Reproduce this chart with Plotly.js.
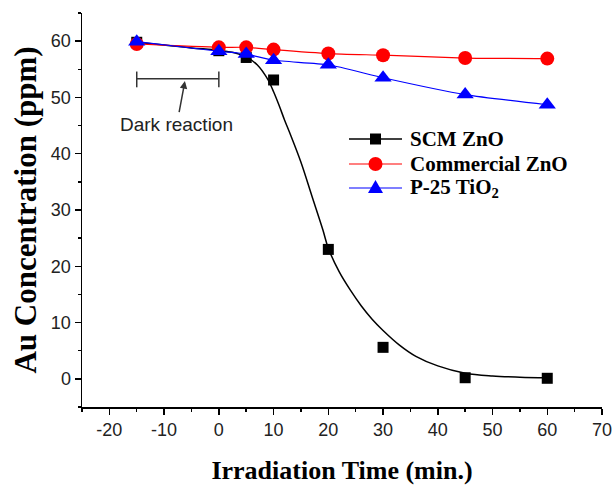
<!DOCTYPE html>
<html>
<head>
<meta charset="utf-8">
<script src="https://cdn.plot.ly/plotly-3.0.1.min.js"></script>
<style>html,body{margin:0;padding:0;background:#fff;}#chart{width:615px;height:485px;}</style>
</head>
<body>
<div id="chart"></div>
<script>
// Irradiation time (min.)
var timeMin = [-15, 0, 5, 10, 20, 30, 45, 60];
// Au concentration (ppm)
var scmZnO = [59.8, 58.3, 57.1, 53.1, 23.0, 5.6, 0.2, 0.1];
var commercialZnO = [59.5, 58.9, 58.9, 58.5, 57.8, 57.5, 57.0, 56.9];
var p25TiO2 = [59.9, 58.2, 57.7, 56.6, 55.8, 53.5, 50.5, 48.7];
// fitted curve for SCM ZnO
var fitX = [-15, -10, -5, 0, 3, 5, 7, 9, 10, 11, 12, 13, 15, 17, 19, 20, 22, 24, 26, 28, 30, 33, 36, 40, 45, 50, 55, 60];
var fitY = [59.8, 59.3, 58.8, 58.4, 57.9, 57.2, 55.8, 53.1, 51.0, 48.6, 46.0, 43.6, 38.5, 32.5, 26.5, 23.2, 19.0, 15.8, 13.0, 10.6, 8.6, 6.0, 4.0, 2.3, 1.0, 0.5, 0.3, 0.2];
// dark reaction period
var darkStart = -15, darkEnd = 0, darkLevel = 53.3;
var xTicks = [-20, -10, 0, 10, 20, 30, 40, 50, 60, 70];
var yTicks = [0, 10, 20, 30, 40, 50, 60];
var seriesNames = ['SCM ZnO', 'Commercial ZnO', 'P-25 TiO<sub>2</sub>'];
var seriesColors = ['#000000', '#ff0000', '#0000ff'];

var serif = '"Liberation Serif", "Times New Roman", serif';
var sans = '"Liberation Sans", Arial, sans-serif';

var traces = [
  {x: fitX, y: fitY, mode: 'lines', line: {color: seriesColors[0], width: 1.5, shape: 'spline', smoothing: 1}, showlegend: false, hoverinfo: 'skip'},
  {x: timeMin, y: scmZnO, mode: 'markers', name: seriesNames[0],
   marker: {symbol: 'square', size: 11, color: seriesColors[0]}, showlegend: false},
  {x: timeMin, y: commercialZnO, mode: 'lines+markers', name: seriesNames[1],
   line: {color: seriesColors[1], width: 1.2, shape: 'spline', smoothing: 0.6},
   marker: {symbol: 'circle', size: 14, color: seriesColors[1]}, showlegend: false},
  {x: timeMin, y: p25TiO2, mode: 'lines+markers', name: seriesNames[2],
   line: {color: seriesColors[2], width: 1.2, shape: 'spline', smoothing: 0.6},
   marker: {symbol: 'triangle-up', size: 15, color: seriesColors[2]}, showlegend: false}
];

// Legend drawn in the plot area (paper coords of plot: x 82..602, y 13..407 px)
var plotL = 82, plotW = 520, plotT = 13, plotH = 394;
function px2x(p) { return (p - plotL) / plotW; }
function px2y(p) { return 1 - (p - plotT) / plotH; }
var legRows = [139, 164, 188];
var legLine0 = 349, legLine1 = 402, legText = 408;
var legMid = (legLine0 + legLine1) / 2;

var shapes = [
  {type: 'line', xref: 'x', yref: 'y', x0: darkStart, x1: darkEnd, y0: darkLevel, y1: darkLevel, line: {color: '#333', width: 1.5}},
  {type: 'line', xref: 'x', yref: 'y', x0: darkStart, x1: darkStart, y0: darkLevel - 1.5, y1: darkLevel + 1.3, line: {color: '#333', width: 1.5}},
  {type: 'line', xref: 'x', yref: 'y', x0: darkEnd, x1: darkEnd, y0: darkLevel - 1.5, y1: darkLevel + 1.3, line: {color: '#333', width: 1.5}}
];
var annotations = [
  {x: -6.2, y: darkLevel - 0.4, xref: 'x', yref: 'y', text: 'Dark reaction', showarrow: true,
   axref: 'pixel', ayref: 'pixel', ax: -8, ay: 43, arrowhead: 2, arrowsize: 1, arrowwidth: 1.5, arrowcolor: '#333',
   font: {family: sans, size: 19, color: '#222'}}
];
legRows.forEach(function (ry, i) {
  var yy = px2y(ry);
  shapes.push({type: 'line', xref: 'paper', yref: 'paper', x0: px2x(legLine0), x1: px2x(legLine1), y0: yy, y1: yy,
               line: {color: seriesColors[i], width: i === 0 ? 1.5 : 1.2}});
  var mk = {xref: 'paper', yref: 'paper', xsizemode: 'pixel', ysizemode: 'pixel', xanchor: px2x(legMid), yanchor: yy,
            fillcolor: seriesColors[i], line: {width: 0}};
  if (i === 0) { mk.type = 'rect'; mk.x0 = -5.5; mk.x1 = 5.5; mk.y0 = -5.5; mk.y1 = 5.5; }
  else if (i === 1) { mk.type = 'circle'; mk.x0 = -7; mk.x1 = 7; mk.y0 = -7; mk.y1 = 7; }
  else { mk.type = 'path'; mk.path = 'M-7.5,-5 L7.5,-5 L0,8 Z'; }
  shapes.push(mk);
  annotations.push({xref: 'paper', yref: 'paper', x: px2x(legText), y: yy, xanchor: 'left', yanchor: 'middle',
                    text: seriesNames[i], showarrow: false, align: 'left',
                    font: {family: serif, size: 21, color: '#000', weight: 'bold'}});
});

var layout = {
  width: 615, height: 485,
  margin: {l: plotL, r: 615 - plotL - plotW, t: plotT, b: 485 - plotT - plotH},
  paper_bgcolor: '#fff', plot_bgcolor: '#fff',
  showlegend: false,
  xaxis: {
    range: [-25, 70], tickvals: xTicks, ticktext: xTicks.map(String),
    showgrid: false, zeroline: false, showline: true, linecolor: '#000', linewidth: 1.5,
    ticks: 'outside', ticklen: 6, tickwidth: 1.5, tickcolor: '#000',
    minor: {dtick: 5, tick0: 0, ticks: 'outside', ticklen: 3, tickwidth: 1.5, tickcolor: '#000', showgrid: false},
    tickfont: {family: sans, size: 18, color: '#222'},
    title: {text: 'Irradiation Time (min.)', font: {family: serif, size: 26, color: '#000', weight: 'bold'}, standoff: 24}
  },
  yaxis: {
    range: [-5, 65], tickvals: yTicks, ticktext: yTicks.map(String),
    showgrid: false, zeroline: false, showline: true, linecolor: '#000', linewidth: 1.5,
    ticks: 'outside', ticklen: 6, tickwidth: 1.5, tickcolor: '#000',
    minor: {dtick: 5, tick0: 0, ticks: 'outside', ticklen: 3, tickwidth: 1.5, tickcolor: '#000', showgrid: false},
    tickfont: {family: sans, size: 18, color: '#222'},
    title: {text: 'Au Concentration (ppm)', font: {family: serif, size: 31, color: '#000', weight: 'bold'}, standoff: 5}
  },
  shapes: shapes,
  annotations: annotations
};

Plotly.newPlot('chart', traces, layout, {displayModeBar: false, staticPlot: true});
</script>
</body>
</html>
